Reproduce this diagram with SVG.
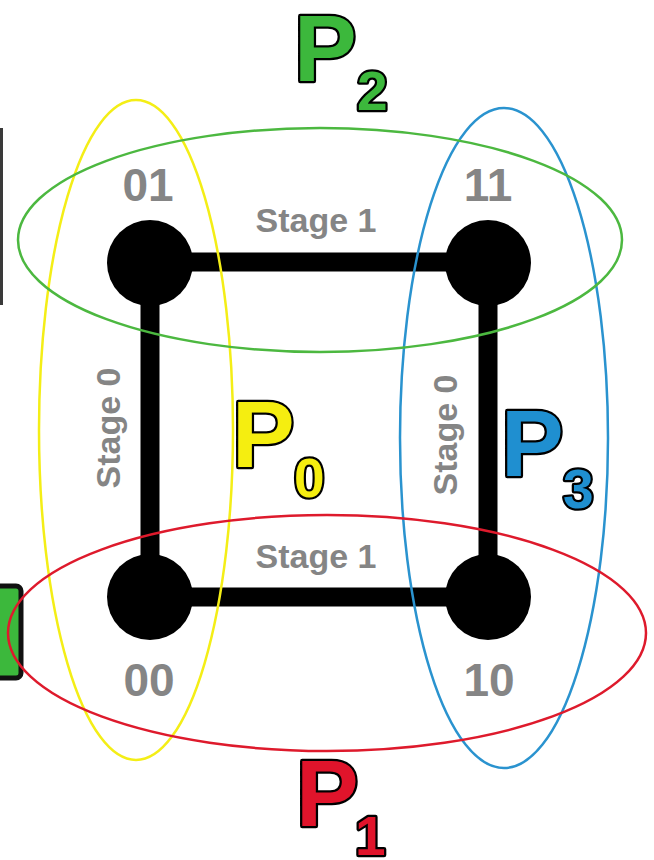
<svg xmlns="http://www.w3.org/2000/svg" width="654" height="860" viewBox="0 0 654 860">
<style>
.edge{stroke:#000;stroke-width:19;fill:none}
.node{fill:#000}
.lbl{font-family:"Liberation Sans",Arial,sans-serif;font-weight:bold;fill:#858585;text-anchor:middle}
.num{font-size:46px}
.stage{font-size:34px}
.big{font-family:"Liberation Sans",Arial,sans-serif;font-weight:bold;stroke:#000;stroke-width:4.5;paint-order:stroke;stroke-linejoin:round}
.p{font-size:94px}
.sub{font-size:55px}
.ell{fill:none;stroke-width:2.5}
</style>
<rect width="654" height="860" fill="#fff"/>
<line x1="1.5" y1="128" x2="1.5" y2="305" stroke="#3a3a3a" stroke-width="3"/>
<rect x="-12" y="586" width="33" height="92" rx="5" fill="#3cb83c" stroke="#111" stroke-width="5"/>
<g id="connectors">
<line class="edge" x1="150" y1="262" x2="488" y2="262"/>
<line class="edge" x1="150" y1="597" x2="488" y2="597"/>
<line class="edge" x1="150" y1="262" x2="150" y2="597"/>
<line class="edge" x1="488" y1="262" x2="488" y2="597"/>
</g>
<g id="node01"><circle class="node" cx="150" cy="263" r="43"/><text class="lbl num" x="148" y="201">01</text></g>
<g id="node11"><circle class="node" cx="488" cy="263" r="43"/><text class="lbl num" x="488" y="201">11</text></g>
<g id="node00"><circle class="node" cx="150" cy="597" r="43"/><text class="lbl num" x="149" y="696">00</text></g>
<g id="node10"><circle class="node" cx="488" cy="597" r="43"/><text class="lbl num" x="489" y="696">10</text></g>
<g id="stages">
<text class="lbl stage" x="316" y="232">Stage 1</text>
<text class="lbl stage" x="316" y="568">Stage 1</text>
<text class="lbl stage" transform="translate(120 428) rotate(-90)">Stage 0</text>
<text class="lbl stage" transform="translate(457 435) rotate(-90)">Stage 0</text>
</g>
<g id="partitions">
<ellipse class="ell" cx="136" cy="430" rx="97" ry="330" stroke="#f4ee16"/>
<ellipse class="ell" cx="504" cy="438" rx="104" ry="330" stroke="#2a93cf"/>
<ellipse class="ell" cx="320" cy="240" rx="302" ry="112" stroke="#4cb840"/>
<ellipse class="ell" cx="327" cy="633" rx="319" ry="118" stroke="#de1a2c"/>
</g>
<g id="P2" fill="#3cb83c"><text class="big p" x="294" y="81">P</text><text class="big sub" x="357" y="110">2</text></g>
<g id="P0" fill="#f5ee10"><text class="big p" x="232" y="467">P</text><text class="big sub" x="294" y="497">0</text></g>
<g id="P3" fill="#1f8fd0"><text class="big p" x="501" y="476">P</text><text class="big sub" x="563" y="508">3</text></g>
<g id="P1" fill="#e0142b"><text class="big p" x="296" y="826">P</text><text class="big sub" x="355" y="855">1</text></g>
</svg>
